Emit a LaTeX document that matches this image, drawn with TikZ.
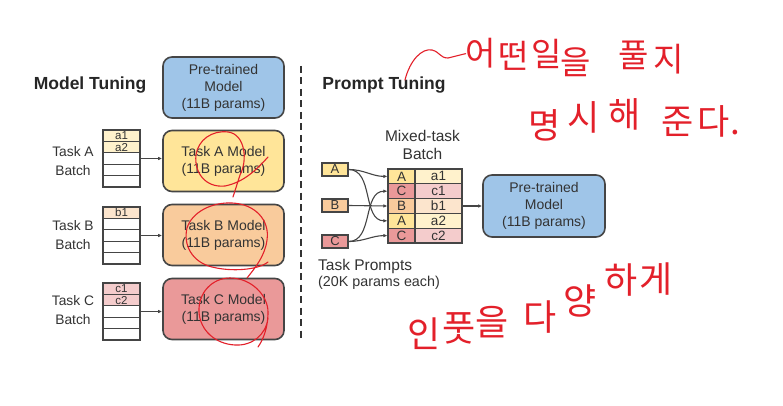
\documentclass[tikz,border=0pt]{standalone}
\usepackage{fontspec}
\setmainfont{Liberation Sans}
\newfontfamily\kr{Noto Sans CJK KR}
\usetikzlibrary{arrows.meta}
\definecolor{txt}{HTML}{333333}
\definecolor{edge}{HTML}{454545}
\definecolor{blueF}{HTML}{9FC5E8}
\definecolor{yelF}{HTML}{FFE599}
\definecolor{oraF}{HTML}{F9CB9C}
\definecolor{redF}{HTML}{EA9999}
\definecolor{yelL}{HTML}{FFF2CC}
\definecolor{oraL}{HTML}{FCE5CD}
\definecolor{redL}{HTML}{F4CCCC}
\definecolor{pen}{HTML}{E3202A}
\tikzset{
  modelbox/.style={draw=edge, line width=1.6pt, rounded corners=9pt, minimum width=121pt, minimum height=61pt, inner sep=0pt, align=center, text=txt, font=\fontsize{14}{17}\selectfont},
  title/.style={text=black!85, font=\bfseries\fontsize{17.5}{20}\selectfont, inner sep=0pt},
  label/.style={text=txt, align=center, inner sep=0pt, font=\fontsize{13.8}{19}\selectfont},
  brow/.style={draw=edge, line width=1.1pt, minimum width=37pt, minimum height=11.4pt, inner sep=0pt, text=txt, font=\fontsize{11.5}{11}\selectfont},
  mcellL/.style={draw=edge, line width=1.1pt, minimum width=27pt, minimum height=14.8pt, inner sep=0pt, text=txt, font=\fontsize{13.5}{12}\selectfont},
  mcellR/.style={draw=edge, line width=1.1pt, minimum width=47pt, minimum height=14.8pt, inner sep=0pt, text=txt, font=\fontsize{13.5}{12}\selectfont},
  pbox/.style={draw=edge, line width=1.1pt, minimum width=26pt, minimum height=13pt, inner sep=0pt, text=txt, font=\fontsize{13}{11}\selectfont},
  conn/.style={draw=edge, line width=1.1pt, -{Latex[length=4pt,width=3.5pt]}},
  ink/.style={draw=pen, line width=1.1pt, line cap=round, line join=round},
  hand/.style={text=pen, inner sep=0pt, anchor=base}
}
\begin{document}
\begin{tikzpicture}[x=1pt,y=-1pt]
\useasboundingbox[fill=white] (0,0) rectangle (783,406);

% ---------- Model tuning ----------
\node[title] (mt) at (90,85) {Model Tuning};
\node[modelbox, fill=blueF] (pre1) at (223.5,87.5) {Pre-trained\\Model\\(11B params)};
\node[modelbox, fill=yelF] (mA) at (223.5,161) {Task A Model\\(11B params)};
\node[modelbox, fill=oraF] (mB) at (223.5,235) {Task B Model\\(11B params)};
\node[modelbox, fill=redF] (mC) at (223.5,309) {Task C Model\\(11B params)};

\node[label] (lA) at (73,161) {Task A\\Batch};
\node[label] (lB) at (73,235) {Task B\\Batch};
\node[label] (lC) at (73,310) {Task C\\Batch};

% Task A batch
\node[brow, fill=yelL] (tA1) at (121.5,135.7) {a1};
\node[brow, fill=yelL] (tA2) at (121.5,147.1) {a2};
\node[brow] (tA3) at (121.5,158.5) {};
\node[brow] (tA4) at (121.5,169.9) {};
\node[brow] (tA5) at (121.5,181.3) {};
% Task B batch
\node[brow, fill=oraL] (tB1) at (121.5,212.7) {b1};
\node[brow] (tB2) at (121.5,224.1) {};
\node[brow] (tB3) at (121.5,235.5) {};
\node[brow] (tB4) at (121.5,246.9) {};
\node[brow] (tB5) at (121.5,258.3) {};
% Task C batch
\node[brow, fill=redL] (tC1) at (121.5,288.7) {c1};
\node[brow, fill=redL] (tC2) at (121.5,300.1) {c2};
\node[brow] (tC3) at (121.5,311.5) {};
\node[brow] (tC4) at (121.5,322.9) {};
\node[brow] (tC5) at (121.5,334.3) {};

\draw[conn] (tA3.east) -- (tA3.east -| mA.west);
\draw[conn] (tB3.east) -- (tB3.east -| mB.west);
\draw[conn] (tC3.east) -- (tC3.east -| mC.west);

% divider
\coordinate (d1) at (301,66);
\coordinate (d2) at (301,340);
\draw[black!80, line width=2.4pt, dash pattern=on 7pt off 4.5pt] (d1) -- (d2);

% ---------- Prompt tuning ----------
\node[title] (pt) at (384,85) {Prompt Tuning};
\node[label, font=\fontsize{15.5}{18}\selectfont] (mx) at (422.5,145) {Mixed-task\\Batch};

\node[pbox, fill=yelF] (pA) at (335,169.5) {A};
\node[pbox, fill=oraF] (pB) at (335,205.5) {B};
\node[pbox, fill=redF] (pC) at (335,241.5) {C};

\node[mcellL, fill=yelF] (L1) at (401.5,176.4) {A};
\node[mcellL, fill=redF] (L2) at (401.5,191.2) {C};
\node[mcellL, fill=oraF] (L3) at (401.5,206.0) {B};
\node[mcellL, fill=yelF] (L4) at (401.5,220.8) {A};
\node[mcellL, fill=redF] (L5) at (401.5,235.6) {C};
\node[mcellR, fill=yelL] (R1) at (438.5,176.4) {a1};
\node[mcellR, fill=redL] (R2) at (438.5,191.2) {c1};
\node[mcellR, fill=oraL] (R3) at (438.5,206.0) {b1};
\node[mcellR, fill=yelL] (R4) at (438.5,220.8) {a2};
\node[mcellR, fill=redL] (R5) at (438.5,235.6) {c2};

\draw[conn] (pA.east) to[out=0,in=180] (L1.west);
\draw[conn] (pA.east) to[out=0,in=180] (L4.west);
\draw[conn] (pB.east) -- (L3.west);
\draw[conn] (pC.east) to[out=0,in=180] (L2.west);
\draw[conn] (pC.east) to[out=0,in=180] (L5.west);

\node[modelbox, fill=blueF, minimum width=122pt, minimum height=62pt] (pre2) at (544,206) {Pre-trained\\Model\\(11B params)};
\draw[conn] (R3.east) -- (R3.east -| pre2.west);

\node[text=txt, anchor=north west, align=left, inner sep=0pt] (tp) at (318,259)
  {{\fontsize{15.5}{18}\selectfont Task Prompts}\\[1.5pt]{\fontsize{14.3}{17}\selectfont (20K params each)}};

% ---------- handwritten red annotations (one glyph per node, baseline placed) ----------
\foreach \x/\y/\g/\n in {481/66/어/ha1, 514/69/떤/ha2, 547/67/일/ha3, 576/75/을/ha4, 634/68/풀/ha5, 669/72/지/ha6}
  \node[hand, font=\kr\fontsize{33}{35}\selectfont] (\n) at (\x,\y) {\g};
\foreach \x/\y/\g/\n in {545/139/명/hb1, 584/131/시/hb2, 625/128/해/hb3, 678/135/준/hb4, 714/135/다/hb5}
  \node[hand, font=\kr\fontsize{35}{38}\selectfont] (\n) at (\x,\y) {\g};
\node[hand, font=\kr\fontsize{35}{38}\selectfont, anchor=base west] (hb6) at (hb5.base east) {.};
\foreach \x/\y/\g/\n in {424/347/인/hc1, 459/341/풋/hc2, 492/335/을/hc3, 540/330/다/hc4, 580/314/양/hc5, 621/293/하/hc6, 656/292/게/hc7}
  \node[hand, font=\kr\fontsize{36}{38}\selectfont] (\n) at (\x,\y) {\g};
\draw[ink] (405,80) .. controls (410,60) and (422,48) .. (432,50) .. controls (440,52) and (440,58) .. (448,58) -- (ha1.west);

% circles on the task models
\draw[ink] (268,157) .. controls (258,168) and (245,182) .. (225,186)
  .. controls (205,188) and (194,172) .. (196,155)
  .. controls (198,140) and (212,130) .. (228,132)
  .. controls (245,134) and (248,160) .. (240,175) -- (233,197);
\draw[ink] (268,262) .. controls (258,270) and (232,272) .. (212,267)
  .. controls (192,262) and (183,245) .. (187,228)
  .. controls (192,212) and (212,202) .. (232,203)
  .. controls (255,204) and (270,220) .. (267,240)
  .. controls (265,256) and (255,268) .. (247,278);
\draw[ink] (268,318) .. controls (266,335) and (252,346) .. (235,345)
  .. controls (215,344) and (200,330) .. (199,312)
  .. controls (198,293) and (212,278) .. (230,278)
  .. controls (252,278) and (268,296) .. (268,312)
  .. controls (268,328) and (263,340) .. (258,347);
\end{tikzpicture}
\end{document}
